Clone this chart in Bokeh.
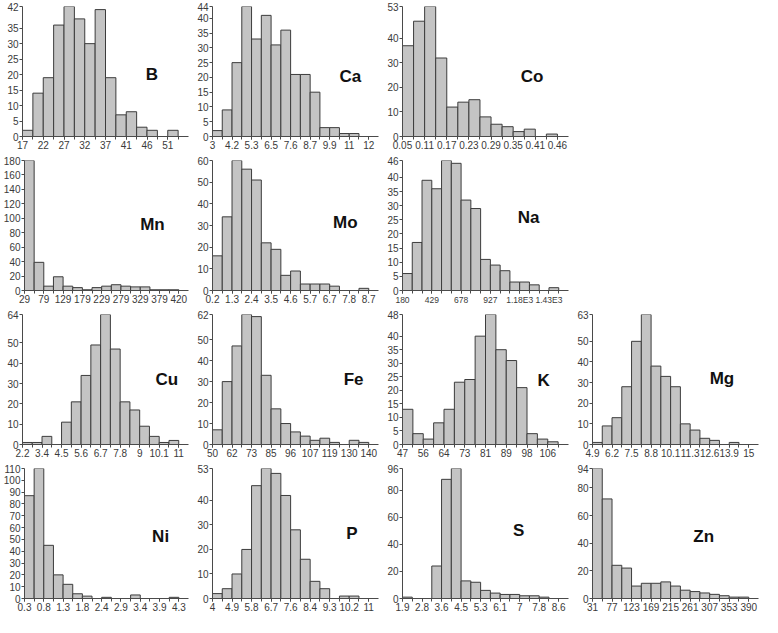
from bokeh.plotting import figure
from bokeh.layouts import column, row
from bokeh.models import Range1d, FixedTicker, Label
from bokeh.embed import file_html
from bokeh.resources import INLINE

# ---------------- data (counts per bin, x tick labels, y ticks) ----------------
b_counts = [2, 14, 19, 36, 42, 38, 30, 41, 19, 7, 8, 3, 2, 0, 2]
b_xlabels = ["17", "22", "27", "32", "37", "41", "46", "51"]
b_yticks = [0, 5, 10, 15, 20, 25, 30, 35, 42]

ca_counts = [2, 9, 25, 44, 33, 41, 31, 36, 21, 21, 15, 3, 3, 1, 1, 0]
ca_xlabels = ["3", "4.2", "5.3", "6.5", "7.6", "8.7", "9.9", "11", "12"]
ca_yticks = [0, 5, 10, 15, 20, 25, 30, 35, 40, 44]

co_counts = [37, 47, 53, 32, 12, 14, 15, 8, 5, 4, 2, 3, 0, 1]
co_xlabels = ["0.05", "0.11", "0.17", "0.23", "0.29", "0.35", "0.41", "0.46"]
co_yticks = [0, 10, 20, 30, 40, 53]

mn_counts = [180, 39, 6, 19, 6, 4, 1, 4, 6, 8, 6, 5, 5, 1, 1, 1]
mn_xlabels = ["29", "79", "129", "179", "229", "279", "329", "379", "420"]
mn_yticks = [0, 20, 40, 60, 80, 100, 120, 140, 160, 180]

mo_counts = [16, 34, 60, 56, 51, 22, 19, 7, 9, 3, 3, 3, 2, 0, 0, 1]
mo_xlabels = ["0.2", "1.3", "2.4", "3.5", "4.6", "5.7", "6.7", "7.8", "8.7"]
mo_yticks = [0, 10, 20, 30, 40, 50, 60]

na_counts = [6, 17, 39, 36, 46, 45, 32, 29, 11, 9, 7, 3, 3, 2, 0, 1]
na_xlabels = ["180", "429", "678", "927", "1.18E3", "1.43E3"]
na_yticks = [0, 5, 10, 15, 20, 25, 30, 35, 40, 46]

cu_counts = [1, 1, 4, 0, 11, 21, 34, 49, 64, 47, 21, 17, 9, 4, 1, 2]
cu_xlabels = ["2.2", "3.4", "4.5", "5.6", "6.7", "7.8", "9", "10.1", "11"]
cu_yticks = [0, 10, 20, 30, 40, 50, 64]

fe_counts = [7, 30, 47, 62, 61, 33, 17, 10, 6, 4, 2, 3, 1, 0, 2, 1]
fe_xlabels = ["50", "62", "73", "85", "96", "107", "119", "130", "140"]
fe_yticks = [0, 10, 20, 30, 40, 50, 62]

k_counts = [13, 4, 2, 8, 13, 23, 24, 40, 48, 35, 31, 21, 4, 2, 1]
k_xlabels = ["47", "56", "64", "73", "81", "89", "98", "106"]
k_yticks = [0, 5, 10, 15, 20, 25, 30, 35, 40, 48]

mg_counts = [1, 9, 13, 28, 50, 63, 38, 33, 28, 10, 7, 3, 2, 0, 1, 0]
mg_xlabels = ["4.9", "6.2", "7.5", "8.8", "10.1", "11.3", "12.6", "13.9", "15"]
mg_yticks = [0, 10, 20, 30, 40, 50, 63]

ni_counts = [87, 110, 45, 20, 12, 4, 2, 0, 1, 0, 0, 3, 0, 0, 0, 1]
ni_xlabels = ["0.3", "0.8", "1.3", "1.8", "2.4", "2.9", "3.4", "3.9", "4.3"]
ni_yticks = [0, 10, 20, 30, 40, 50, 60, 70, 80, 90, 100, 110]

p_counts = [2, 4, 10, 20, 46, 53, 51, 42, 28, 16, 7, 4, 0, 1, 1, 0]
p_xlabels = ["4", "4.9", "5.8", "6.7", "7.6", "8.4", "9.3", "10.2", "11"]
p_yticks = [0, 10, 20, 30, 40, 53]

s_counts = [1, 0, 0, 24, 88, 96, 13, 12, 6, 4, 3, 3, 2, 2, 1, 0]
s_xlabels = ["1.9", "2.8", "3.6", "4.5", "5.3", "6.1", "7", "7.8", "8.6"]
s_yticks = [0, 20, 40, 60, 80, 96]

zn_counts = [94, 72, 24, 22, 9, 11, 11, 12, 9, 6, 5, 4, 3, 2, 1, 1]
zn_xlabels = ["31", "77", "123", "169", "215", "261", "307", "353", "390"]
zn_yticks = [0, 20, 40, 60, 80, 94]

# ---------------- styling / placement ----------------
FILL = "#c4c4c4"
EDGE = "#3c3c3c"
AXIS = "#4a4a4a"
TXT = "#3a3a3a"


def make_panel(name, counts, xlabels, yticks, step, fx, fy, xfont="10px"):
    n = len(counts)
    ymax = yticks[-1]
    p = figure(width=190, height=154, output_backend="svg", toolbar_location=None,
               x_range=Range1d(0, n + 1), y_range=Range1d(0, ymax),
               min_border_left=22, min_border_right=2,
               min_border_top=6, min_border_bottom=18)
    p.outline_line_color = None
    p.grid.visible = False
    p.background_fill_color = "white"
    p.vbar(x=[i + 0.5 for i in range(n)], top=counts, bottom=0, width=1,
           fill_color=FILL, line_color=EDGE, line_width=1)

    xt = [i * step for i in range(len(xlabels))]
    p.xaxis.ticker = FixedTicker(ticks=xt, minor_ticks=list(range(n + 1)))
    p.xaxis.major_label_overrides = {t: l for t, l in zip(xt, xlabels)}
    p.yaxis.ticker = FixedTicker(ticks=yticks, minor_ticks=[])

    for ax in (p.xaxis[0], p.yaxis[0]):
        ax.axis_line_color = AXIS
        ax.axis_line_width = 1
        ax.major_tick_line_color = AXIS
        ax.minor_tick_line_color = AXIS
        ax.major_tick_in = 0
        ax.major_tick_out = 3
        ax.minor_tick_in = 0
        ax.minor_tick_out = 3
        ax.major_label_text_font = "Liberation Sans"
        ax.major_label_text_font_size = "10px"
        ax.major_label_text_color = TXT
        ax.major_label_standoff = 1
    p.xaxis.major_label_text_font_size = xfont
    p.yaxis.minor_tick_line_color = None

    p.add_layout(Label(x=fx * (n + 1), y=fy * ymax, text=name,
                       text_align="center", text_baseline="middle",
                       text_font="Liberation Sans", text_font_style="bold",
                       text_font_size="17px", text_color="#111111"))
    return p


panels = {
    "B": make_panel("B", b_counts, b_xlabels, b_yticks, 2, 0.78, 0.48),
    "Ca": make_panel("Ca", ca_counts, ca_xlabels, ca_yticks, 2, 0.83, 0.46),
    "Co": make_panel("Co", co_counts, co_xlabels, co_yticks, 2, 0.78, 0.46),
    "Mn": make_panel("Mn", mn_counts, mn_xlabels, mn_yticks, 2, 0.78, 0.51),
    "Mo": make_panel("Mo", mo_counts, mo_xlabels, mo_yticks, 2, 0.80, 0.52),
    "Na": make_panel("Na", na_counts, na_xlabels, na_yticks, 3, 0.76, 0.56, "8.5px"),
    "Cu": make_panel("Cu", cu_counts, cu_xlabels, cu_yticks, 2, 0.87, 0.50),
    "Fe": make_panel("Fe", fe_counts, fe_xlabels, fe_yticks, 2, 0.85, 0.50),
    "K": make_panel("K", k_counts, k_xlabels, k_yticks, 2, 0.85, 0.49),
    "Mg": make_panel("Mg", mg_counts, mg_xlabels, mg_yticks, 2, 0.78, 0.51),
    "Ni": make_panel("Ni", ni_counts, ni_xlabels, ni_yticks, 2, 0.83, 0.48),
    "P": make_panel("P", p_counts, p_xlabels, p_yticks, 2, 0.84, 0.50),
    "S": make_panel("S", s_counts, s_xlabels, s_yticks, 2, 0.70, 0.52),
    "Zn": make_panel("Zn", zn_counts, zn_xlabels, zn_yticks, 2, 0.67, 0.48),
}

layout = column(
    row(panels["B"], panels["Ca"], panels["Co"]),
    row(panels["Mn"], panels["Mo"], panels["Na"]),
    row(panels["Cu"], panels["Fe"], panels["K"], panels["Mg"]),
    row(panels["Ni"], panels["P"], panels["S"], panels["Zn"]),
)

open("out.html", "w").write(file_html(layout, INLINE))
